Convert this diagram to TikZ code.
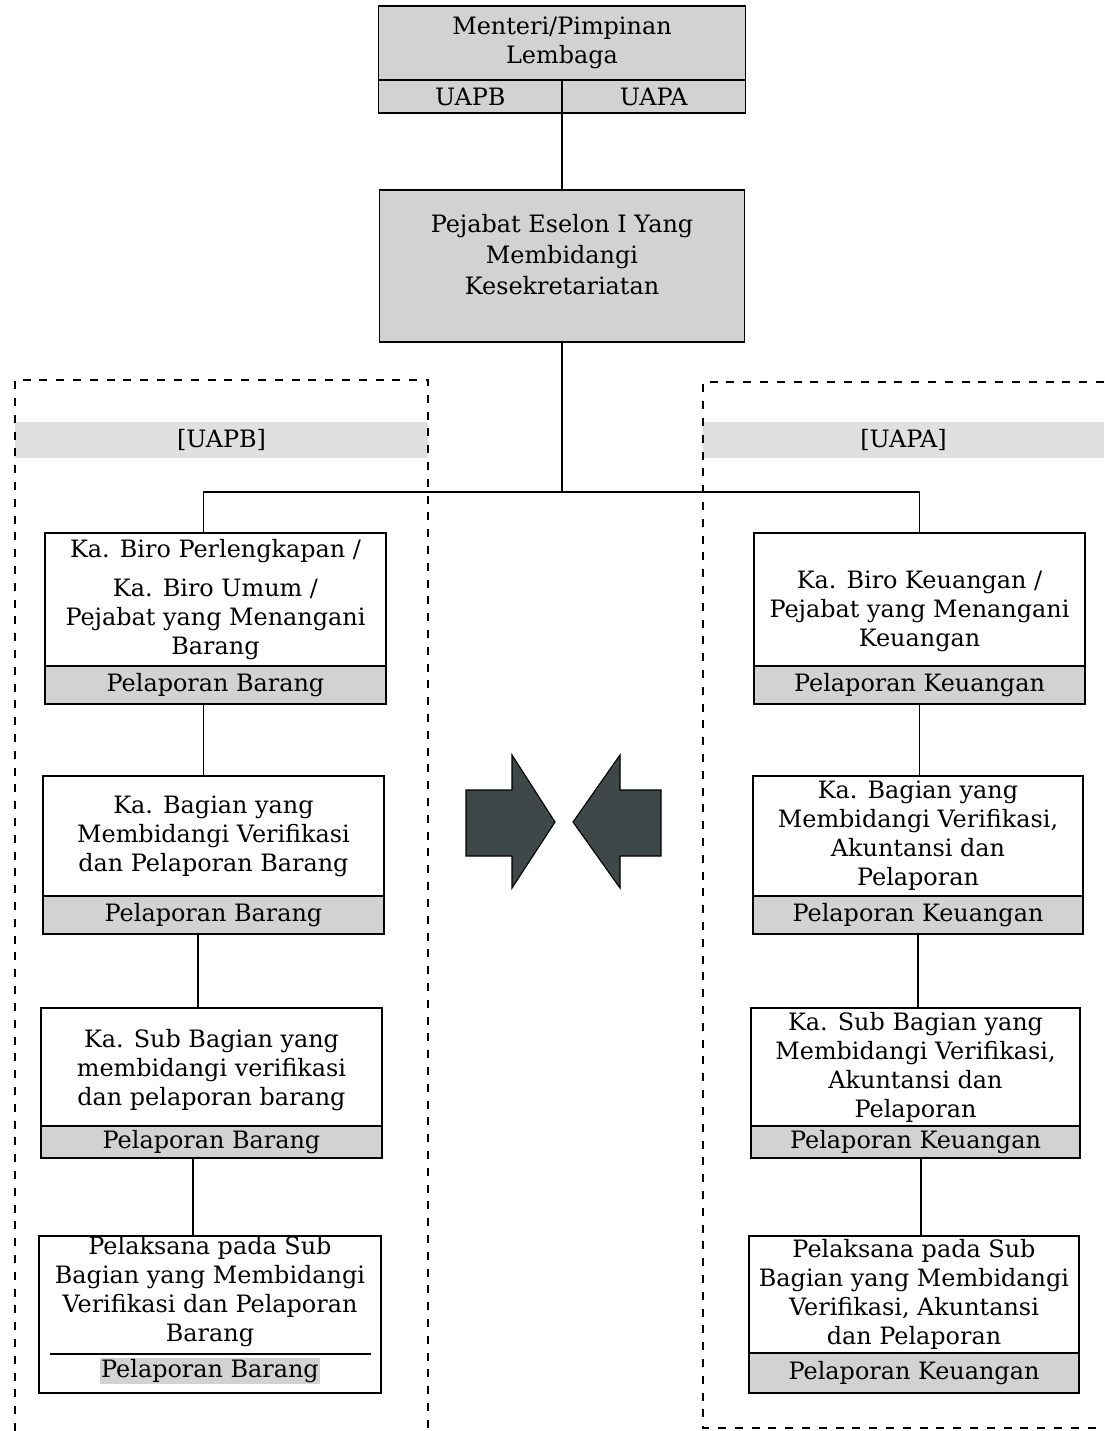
\documentclass[tikz,border=0pt]{standalone}
\usepackage{fontspec}
\setmainfont{DejaVu Serif}
\definecolor{BoxGray}{RGB}{210,210,210}
\definecolor{BandGray}{RGB}{224,224,224}
\definecolor{ArrowGray}{RGB}{62,72,72}
\usepackage{tikz}
\usetikzlibrary{positioning, calc}

\begin{document}
\begin{tikzpicture}[x=0.025cm, y=-0.025cm,
    every node/.style={font=\fontsize{17}{20.6}\selectfont, outer sep=0pt},
    mainbox/.style={draw, line width=1.1pt, fill=white, align=center, inner sep=1pt},
    graybox/.style={mainbox, fill=BoxGray},
    stripbox/.style={draw, line width=1.1pt, fill=BoxGray, inner sep=1pt},
    band/.style={fill=BandGray, minimum height=0.9cm, inner sep=0pt},
    link/.style={line width=1.1pt},
    framedash/.style={line width=1.2pt, dash pattern=on 0.2cm off 0.22cm}]
  \useasboundingbox (0,0) rectangle (1104,1431);
  \fill[white] (0,0) rectangle (1104,1431);

  % unit bands
  \node[band, minimum width=10.325cm] (bandb) at (221.5,440) {[UAPB]};
  \node[band, minimum width=10.025cm] (banda) at (903.5,440) {[UAPA]};
  \draw[framedash] (15,1431) -- (15,380) -- (428,380) -- (428,1431);
  \draw[framedash] (1104,382) -- (703,382) -- (703,1428) -- (1104,1428);

  % top
  \node[graybox, minimum width=9.175cm, minimum height=1.85cm] (menteri) at (562,43)
    {Menteri/Pimpinan\\Lembaga};
  \node[stripbox, anchor=north west, minimum width=4.5875cm, minimum height=0.825cm] (uapb)
    at (menteri.south west) {UAPB};
  \node[stripbox, anchor=north east, minimum width=4.5875cm, minimum height=0.825cm] (uapa)
    at (menteri.south east) {UAPA};
  \node[graybox, minimum width=9.125cm, minimum height=3.8cm] (eselon) at (562,266)
    {Pejabat Eselon I Yang\\[0.05cm]Membidangi\\[0.05cm]Kesekretariatan\\[-0.15cm]\mbox{}};
  \coordinate (fork) at (562,492);

  % left column (UAPB)
  \node[mainbox, minimum width=8.525cm, minimum height=3.325cm] (lb1) at (215.5,599.5)
    {Ka. Biro Perlengkapan /\\[0.25cm]Ka. Biro Umum /\\Pejabat yang Menangani\\Barang};
  \node[stripbox, below=0pt of lb1, minimum width=8.525cm, minimum height=0.95cm] (lb1s)
    {Pelaporan Barang};
  \node[mainbox, minimum width=8.525cm, minimum height=3.0cm] (lb2) at (213.5,836)
    {Ka. Bagian yang\\Membidangi Verifikasi\\dan Pelaporan Barang};
  \node[stripbox, below=0pt of lb2, minimum width=8.525cm, minimum height=0.95cm] (lb2s)
    {Pelaporan Barang};
  \node[mainbox, minimum width=8.525cm, minimum height=2.95cm] (lb3) at (211.5,1067)
    {\mbox{}\\[-0.1cm]Ka. Sub Bagian yang\\membidangi verifikasi\\dan pelaporan barang};
  \node[stripbox, below=0pt of lb3, minimum width=8.525cm, minimum height=0.8cm] (lb3s)
    {Pelaporan Barang};
  \node[mainbox, minimum width=8.55cm, minimum height=3.925cm] (lb4) at (210,1314.5) {};
  \node[align=center, inner sep=0pt] (lb4t) at (210,1292)
    {Pelaksana pada Sub\\Bagian yang Membidangi\\Verifikasi dan Pelaporan\\Barang};
  \draw[link] (50,1354) -- (371,1354);
  \node[fill=BoxGray, inner sep=1pt] (lb4s) at (210,1371) {Pelaporan Barang};

  % right column (UAPA)
  \node[mainbox, minimum width=8.275cm, minimum height=3.325cm] (rb1) at (919.5,599.5)
    {\mbox{}\\[0.3cm]Ka. Biro Keuangan /\\Pejabat yang Menangani\\Keuangan};
  \node[stripbox, below=0pt of rb1, minimum width=8.275cm, minimum height=0.95cm] (rb1s)
    {Pelaporan Keuangan};
  \node[mainbox, minimum width=8.25cm, minimum height=3.0cm] (rb2) at (918,836)
    {Ka. Bagian yang\\Membidangi Verifikasi,\\Akuntansi dan\\Pelaporan};
  \node[stripbox, below=0pt of rb2, minimum width=8.25cm, minimum height=0.95cm] (rb2s)
    {Pelaporan Keuangan};
  \node[mainbox, minimum width=8.225cm, minimum height=2.95cm] (rb3) at (915.5,1067)
    {Ka. Sub Bagian yang\\Membidangi Verifikasi,\\Akuntansi dan\\Pelaporan};
  \node[stripbox, below=0pt of rb3, minimum width=8.225cm, minimum height=0.8cm] (rb3s)
    {Pelaporan Keuangan};
  \node[mainbox, minimum width=8.25cm, minimum height=2.925cm] (rb4) at (914,1294.5)
    {Pelaksana pada Sub\\Bagian yang Membidangi\\Verifikasi, Akuntansi\\dan Pelaporan};
  \node[stripbox, below=0pt of rb4, minimum width=8.25cm, minimum height=1.0cm] (rb4s)
    {Pelaporan Keuangan};

  % connectors
  \draw[link] (uapb.south east) -- (eselon.north);
  \draw[link] (eselon.south) -- (fork);
  \draw[link] ([xshift=-0.3cm]lb1.north) |- (fork) -| (rb1.north);
  \draw[link] ([xshift=-0.3cm]lb1s.south) -- ([xshift=-0.3cm]lb1s.south |- lb2.north);
  \draw[link] ([xshift=-0.39cm]lb2s.south) -- ([xshift=-0.39cm]lb2s.south |- lb3.north);
  \draw[link] ([xshift=-0.46cm]lb3s.south) -- ([xshift=-0.46cm]lb3s.south |- lb4.north);
  \draw[link] (rb1s.south) -- (rb1s.south |- rb2.north);
  \draw[link] (rb2s.south) -- (rb2s.south |- rb3.north);
  \draw[link] ([xshift=0.14cm]rb3s.south) -- ([xshift=0.14cm]rb3s.south |- rb4.north);

  % arrows facing each other
  \filldraw[fill=ArrowGray, draw=black, line width=0.8pt]
    (466,790) -- (512,790) -- (512,755) -- (555,822) -- (512,888) -- (512,856) -- (466,856) -- cycle;
  \filldraw[fill=ArrowGray, draw=black, line width=0.8pt]
    (573,822) -- (620,755) -- (620,790) -- (661,790) -- (661,856) -- (620,856) -- (620,888) -- cycle;
\end{tikzpicture}
\end{document}
